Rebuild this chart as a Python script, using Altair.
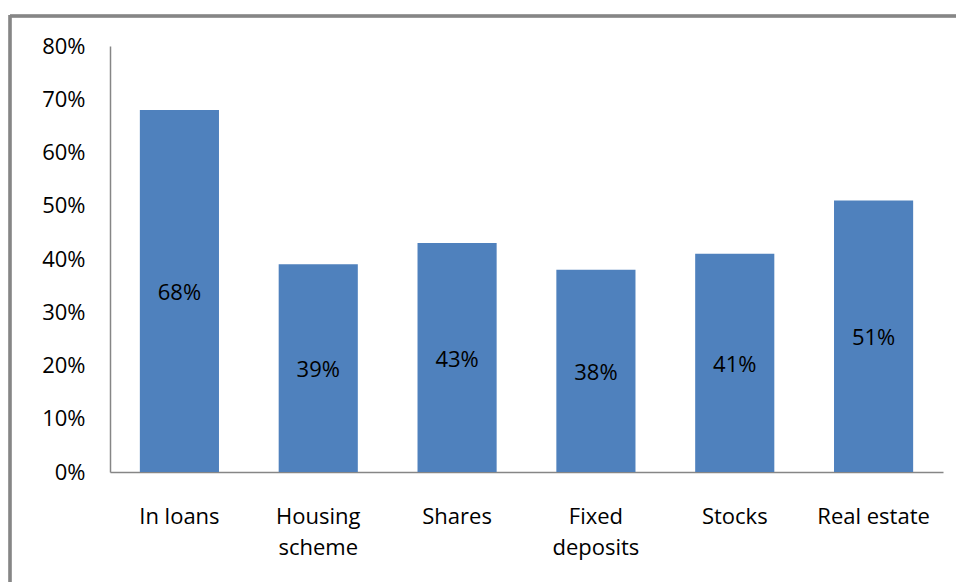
import altair as alt
import pandas as pd

categories = ["In loans", "Housing scheme", "Shares", "Fixed deposits", "Stocks", "Real estate"]
values = [0.68, 0.39, 0.43, 0.38, 0.41, 0.51]
y_ticks = [0, 0.1, 0.2, 0.3, 0.4, 0.5, 0.6, 0.7, 0.8]

df = pd.DataFrame({"category": categories, "value": values})

FONT = "Open Sans"
FS = 22
GRAY = "#868686"

label_expr = (
    "datum.label == 'Housing scheme' ? ['Housing', 'scheme'] : "
    "datum.label == 'Fixed deposits' ? ['Fixed', 'deposits'] : datum.label"
)

x = alt.X(
    "category:N",
    sort=categories,
    title=None,
    scale=alt.Scale(paddingInner=0.43, paddingOuter=0.215),
    axis=alt.Axis(
        labelAngle=0,
        labelFont=FONT,
        labelFontSize=FS,
        labelColor="#000000",
        labelPadding=34,
        labelLineHeight=31,
        labelExpr=label_expr,
        ticks=False,
        domainColor=GRAY,
        domainWidth=1.5,
        grid=False,
    ),
)
y = alt.Y(
    "value:Q",
    title=None,
    scale=alt.Scale(domain=[0, 0.8], nice=False),
    axis=alt.Axis(
        values=y_ticks,
        format=".0%",
        labelFont=FONT,
        labelFontSize=FS,
        labelColor="#000000",
        labelPadding=25,
        ticks=False,
        domainColor=GRAY,
        domainWidth=1.5,
        grid=False,
    ),
)

bars = alt.Chart(df).mark_bar(color="#4F81BD").encode(x=x, y=y)

labels = alt.Chart(df).mark_text(
    font=FONT, fontSize=FS, color="#000000", baseline="middle", dy=2
).encode(
    x=alt.X("category:N", sort=categories),
    y=alt.Y("mid:Q"),
    text=alt.Text("value:Q", format=".0%"),
).transform_calculate(mid="datum.value / 2")

frame_top = alt.Chart(df).mark_rule(color=GRAY, strokeWidth=2.5).encode(
    x=alt.value(-100), x2=alt.value(900), y=alt.value(-30)
)
frame_left = alt.Chart(df).mark_rule(color=GRAY, strokeWidth=2.5).encode(
    x=alt.value(-100), y=alt.value(-31), y2=alt.value(600)
)

chart = (
    alt.layer(bars, labels, frame_top, frame_left)
    .properties(
        width=833,
        height=426,
        background="#ffffff",
        autosize=alt.AutoSizeParams(type="none"),
        padding={"left": 110, "top": 46, "right": 13, "bottom": 110},
    )
    .configure_view(stroke="transparent", strokeWidth=0)
)

chart.save("out.html", embed_options={"renderer": "svg", "actions": False})
